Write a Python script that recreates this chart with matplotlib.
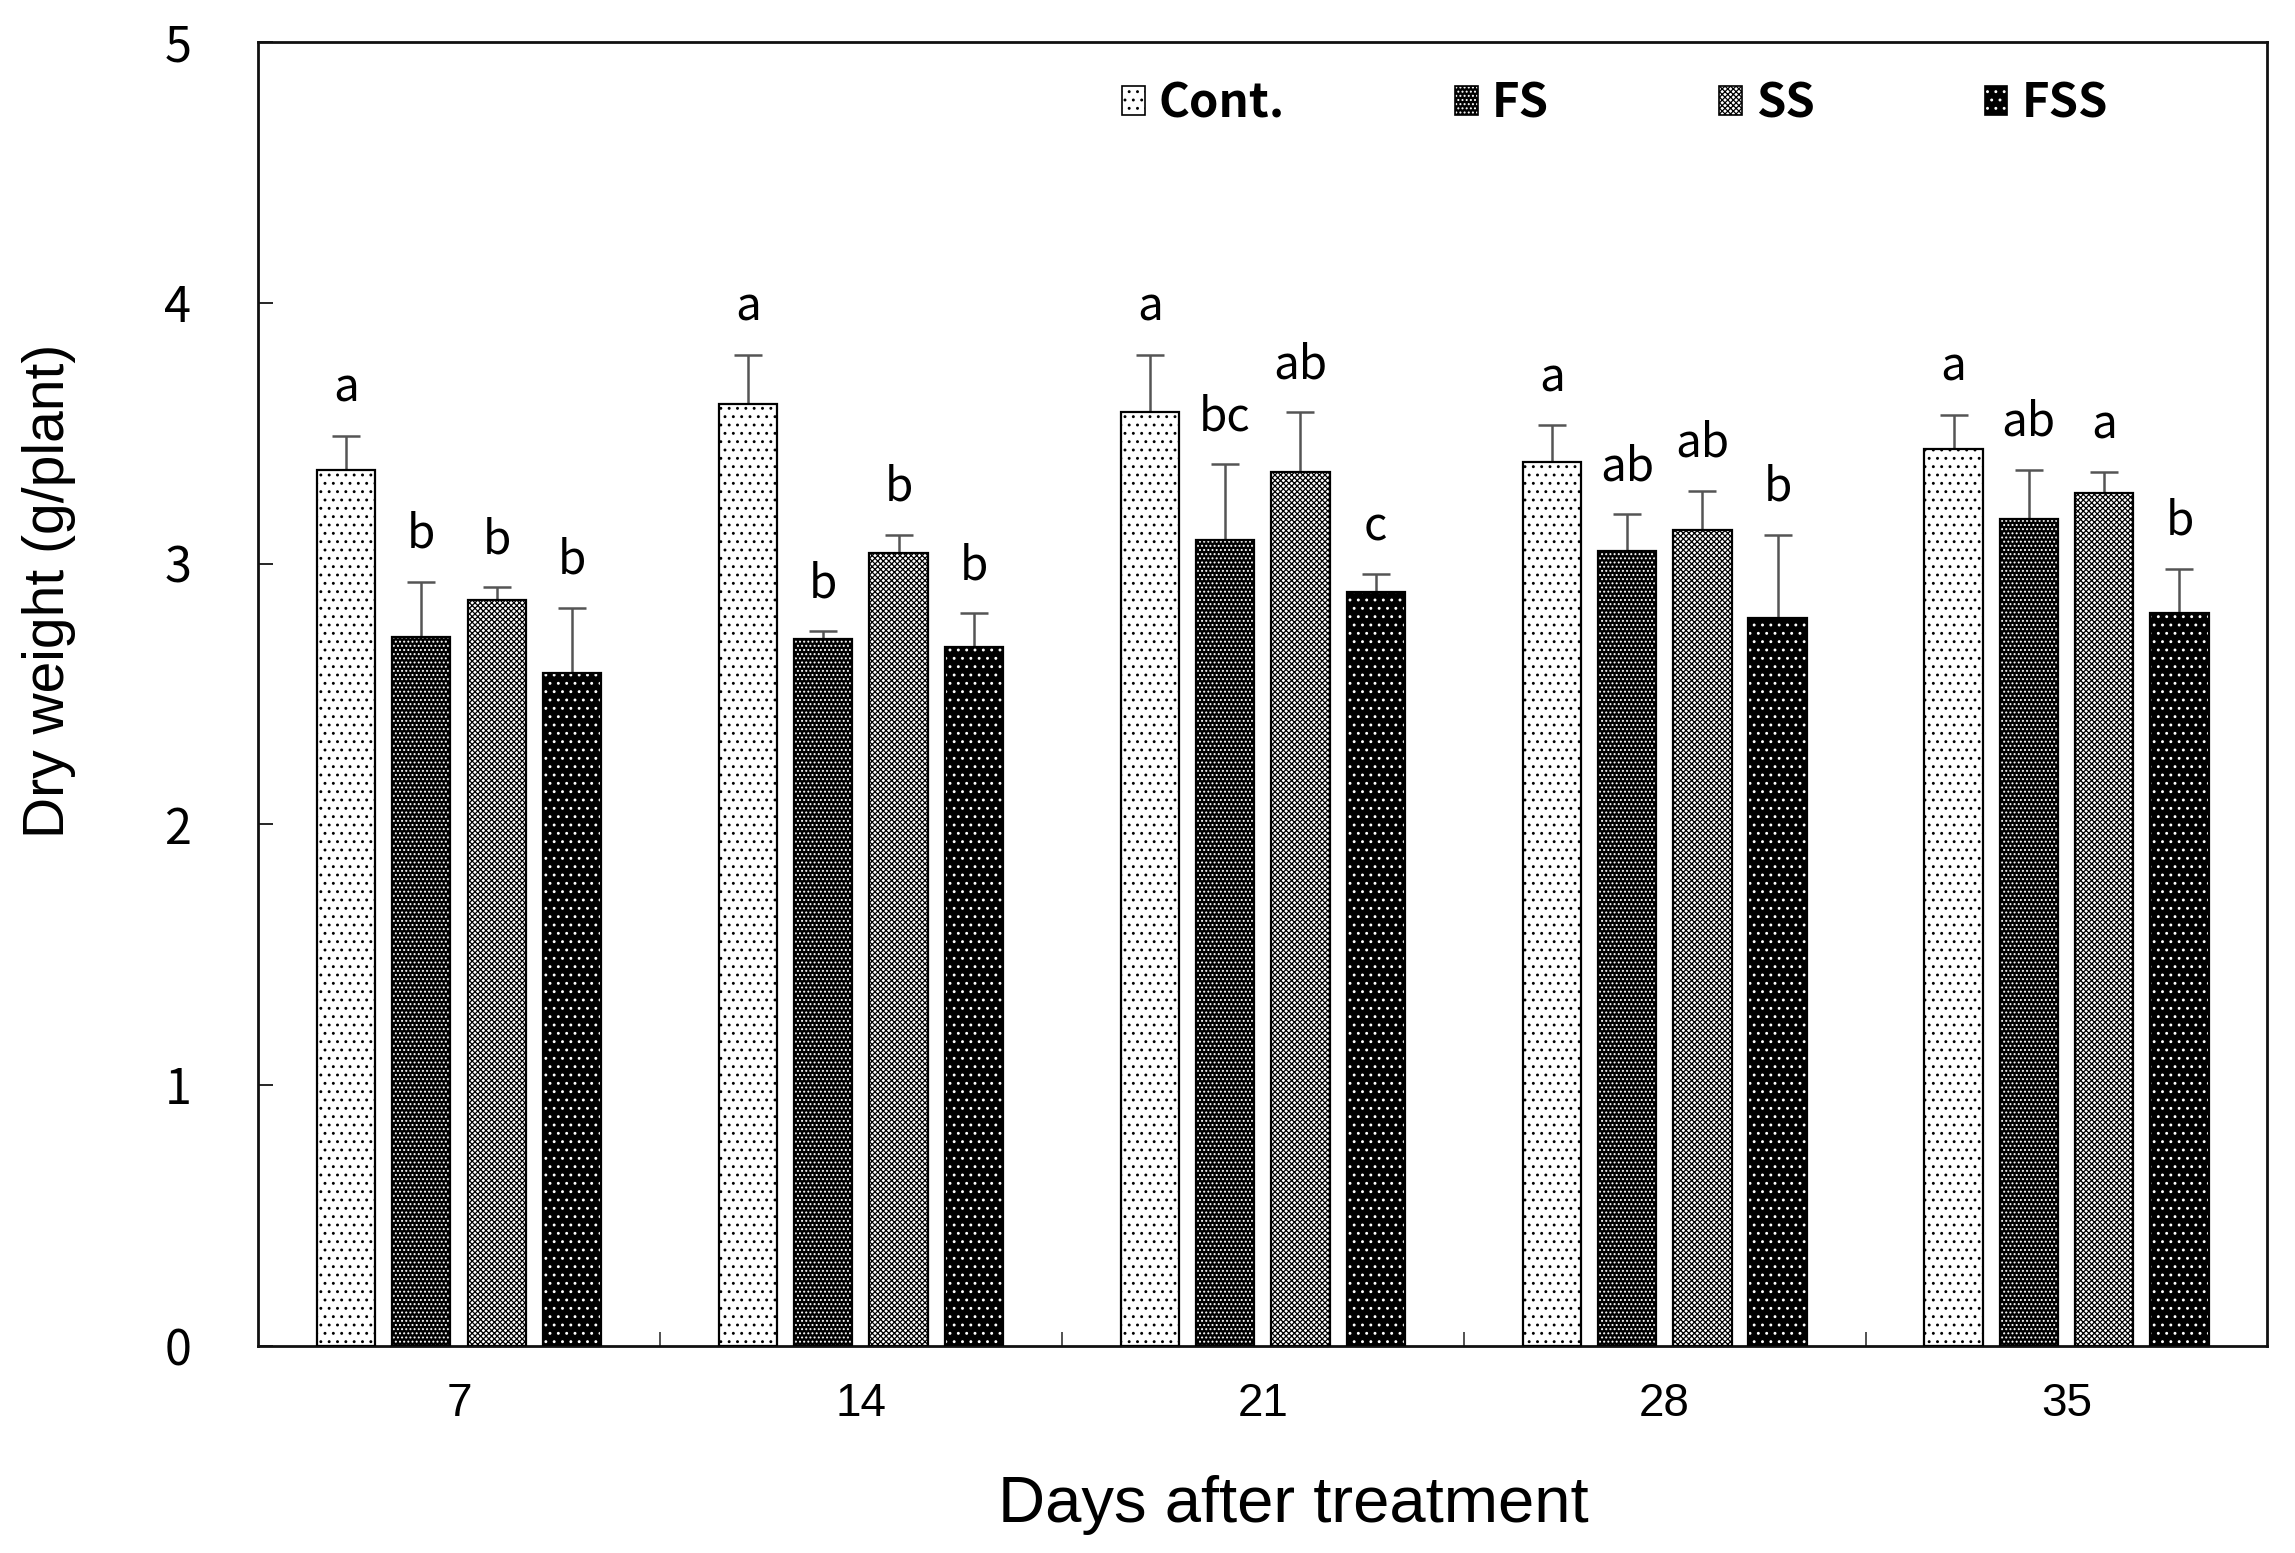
import matplotlib
matplotlib.use("Agg")
import matplotlib.pyplot as plt
import numpy as np
from matplotlib.patches import Patch

days = ["7", "14", "21", "28", "35"]
treatments = ["Cont.", "FS", "SS", "FSS"]
means = {
    "Cont.": [3.36, 3.61, 3.58, 3.39, 3.44],
    "FS":    [2.72, 2.71, 3.09, 3.05, 3.17],
    "SS":    [2.86, 3.04, 3.35, 3.13, 3.27],
    "FSS":   [2.58, 2.68, 2.89, 2.79, 2.81],
}
errors = {
    "Cont.": [0.13, 0.19, 0.22, 0.14, 0.13],
    "FS":    [0.21, 0.03, 0.29, 0.14, 0.19],
    "SS":    [0.05, 0.07, 0.23, 0.15, 0.08],
    "FSS":   [0.25, 0.13, 0.07, 0.32, 0.17],
}
letters = {
    "Cont.": ["a", "a", "a", "a", "a"],
    "FS":    ["b", "b", "bc", "ab", "ab"],
    "SS":    ["b", "b", "ab", "ab", "a"],
    "FSS":   ["b", "b", "c", "b", "b"],
}

main_font = ["Noto Sans CJK KR", "Noto Sans", "DejaVu Sans"]
arial_font = ["Liberation Sans", "DejaVu Sans"]

styles = {
    "Cont.": dict(face="white", hatch="..", hcolor="black"),
    "FS":    dict(face="black", hatch="....", hcolor="white"),
    "SS":    dict(face="white", hatch="xxxxxx", hcolor="black"),
    "FSS":   dict(face="black", hatch="..", hcolor="white"),
}

plt.rcParams["hatch.linewidth"] = 0.9
plt.rcParams["font.family"] = main_font
fig = plt.figure(figsize=(22.95, 15.53), dpi=100)
ax = fig.add_axes([0.1124, 0.1333, 0.8756, 0.8397])

x = np.arange(len(days))
width = 0.145
offsets = [-0.281, -0.094, 0.094, 0.281]

handles = []
for i, t in enumerate(treatments):
    st = styles[t]
    pos = x + offsets[i]
    ax.bar(pos, means[t], width, color=st["face"], edgecolor=st["hcolor"],
           hatch=st["hatch"], linewidth=0, zorder=2)
    ax.bar(pos, means[t], width, fill=False, edgecolor="black", linewidth=1.6, zorder=3)
    ax.errorbar(pos, means[t], yerr=[np.zeros(len(days)), errors[t]], fmt="none",
                ecolor="#555555", elinewidth=1.8, capsize=10, capthick=1.8, zorder=1)
    for j in range(len(days)):
        ax.text(pos[j], means[t][j] + errors[t][j] + 0.13, letters[t][j],
                ha="center", va="baseline", fontsize=33, family=main_font, color="black")
    h_fill = Patch(facecolor=st["face"], edgecolor=st["hcolor"], hatch=st["hatch"], linewidth=0)
    h_edge = Patch(facecolor="none", edgecolor="black", linewidth=1.2)
    handles.append((h_fill, h_edge))

ax.set_xlim(-0.5, 4.5)
ax.set_ylim(0, 5)
ax.set_yticks([0, 1, 2, 3, 4, 5])
ax.set_xticks(x)
ax.set_xticks(np.arange(0.5, 4.5, 1.0), minor=True)
ax.tick_params(axis="x", which="major", length=0, pad=26)
ax.tick_params(axis="x", which="minor", direction="in", length=10, width=1.2, color="#333333")
ax.tick_params(axis="y", direction="in", length=11, width=1.2, pad=48, labelsize=35)
ax.set_xticklabels(days, family=arial_font, fontsize=33)
for lab in ax.get_yticklabels():
    lab.set_family(main_font)
for s in ax.spines.values():
    s.set_linewidth(2.0)
    s.set_color("#111111")

ax.set_ylabel("Dry weight (g/plant)", fontsize=41, family=arial_font, va="center")
ax.yaxis.set_label_coords(-0.104, 0.579)
ax.set_xlabel("Days after treatment", fontsize=47, family=arial_font, va="center")
ax.xaxis.set_label_coords(0.515, -0.122)

leg = ax.legend(handles, treatments, ncol=4, frameon=False,
                loc="center left", bbox_to_anchor=(0.43, 0.953),
                prop={"family": main_font, "weight": "bold", "size": 34},
                handlelength=0.48, handleheight=0.55, handletextpad=0.3,
                columnspacing=3.6, borderaxespad=0, borderpad=0)

fig.savefig("out.png", dpi=100)
